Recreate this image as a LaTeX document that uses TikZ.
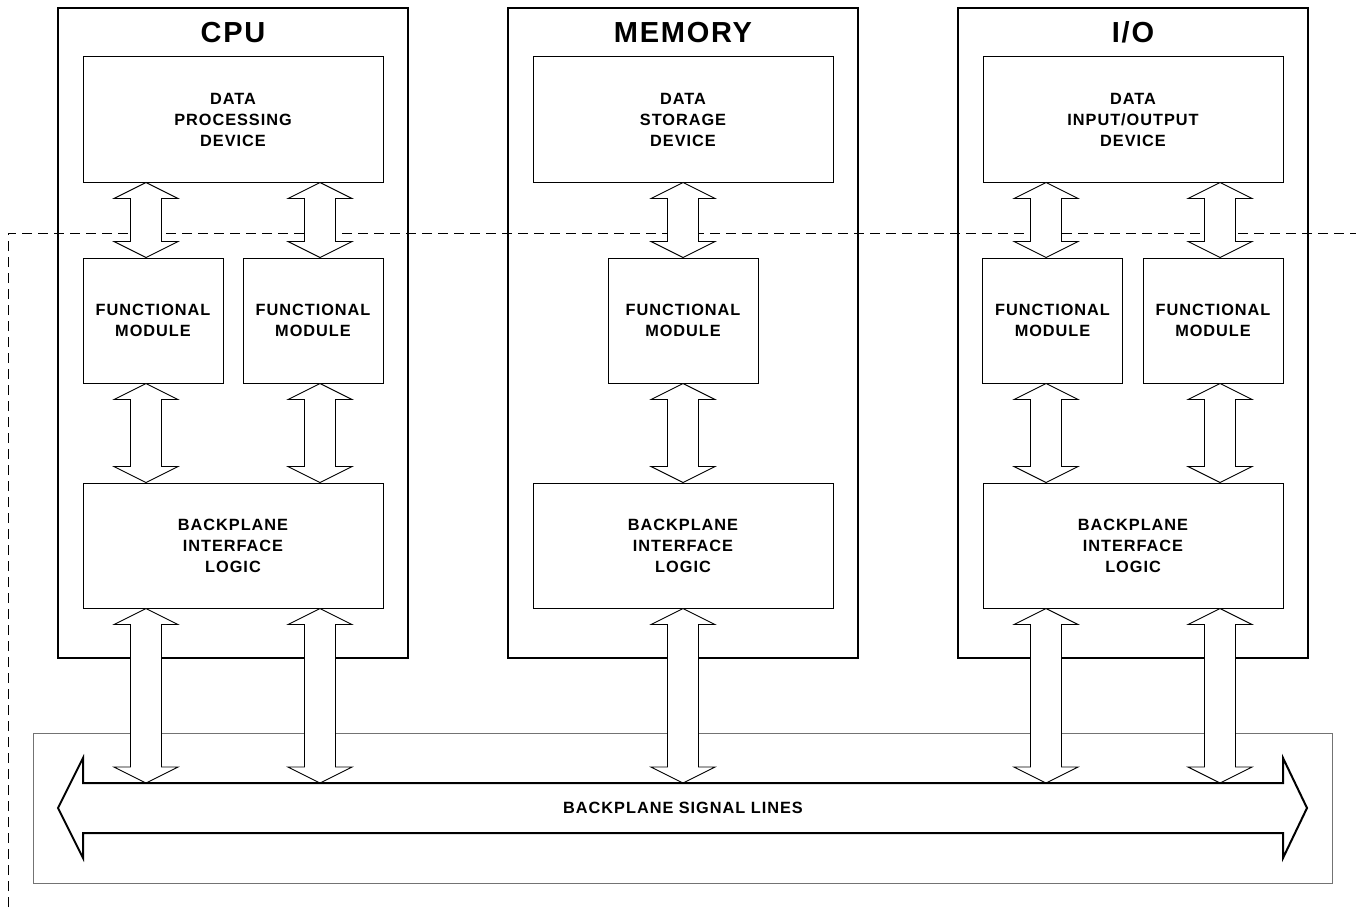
\documentclass[tikz,border=0pt]{standalone}
\usepackage{fontspec}
\setmainfont{Liberation Sans}[LetterSpace=6]
\usetikzlibrary{calc}

\newcommand{\boxfont}{\bfseries\fontsize{16.3}{21}\selectfont}
\newcommand{\titlefont}{\bfseries\fontsize{29}{30}\selectfont}

\tikzset{
  unitbox/.style={draw, line width=2pt, minimum width=350pt, minimum height=650pt, inner sep=0pt},
  unittitle/.style={anchor=base, font=\titlefont},
  devbox/.style={draw, line width=1pt, minimum width=300pt, minimum height=125pt, inner sep=0pt, align=center, font=\boxfont},
  modbox/.style={devbox, minimum width=140pt},
  frame/.style={draw=black!55, line width=1pt, minimum width=1299pt, minimum height=150pt, inner sep=0pt},
  dataflow/.style={draw, line width=0.9pt, fill=white, line join=miter},
  busflow/.style={draw, line width=2pt, fill=white, line join=miter},
  boundary/.style={dashed, dash pattern=on 10pt off 6pt, line width=1pt}
}

% block arrow with a head at each end: #1 upper tip, #2 lower tip
\newcommand{\dataarrow}[2]{%
  \draw[dataflow] (#1) -- ++(32,16) -- ++(-16.5,0) -- ($(#2)+(15.5,-16)$) -- ++(16.5,0)
    -- (#2) -- ++(-32,-16) -- ++(16.5,0) -- ($(#1)+(-15.5,16)$) -- ++(-16.5,0) -- cycle;}

\begin{document}
\begin{tikzpicture}[x=1pt, y=-1pt]
		\useasboundingbox (0,0) rectangle (1356,907);

		% Board boundary
		\coordinate (edge-bl) at (8,907);
		\coordinate (edge-tl) at (8,233);
		\coordinate (edge-tr) at (1356,233);
		\draw[boundary] (edge-bl) -- (edge-tl) -- (edge-tr);

		% Units
		\foreach \u/\x/\t in {cpu/233/CPU, mem/683/MEMORY, io/1133/{I/O}} {
			\node[unitbox] (\u) at (\x,333) {};
			\node[unittitle] (\u-title) at (\x,43) {\t};
			\node[devbox] (\u-bil) at (\x,545.5) {BACKPLANE\\INTERFACE\\LOGIC};
		}

		% Devices
		\node[devbox] (cpu-dev) at (233,119.5) {DATA\\PROCESSING\\DEVICE};
		\node[devbox] (mem-dev) at (683,119.5) {DATA\\STORAGE\\DEVICE};
		\node[devbox] (io-dev) at (1133,119.5) {DATA\\INPUT/OUTPUT\\DEVICE};

		% Functional modules
		\node[modbox] (cpu-fa) at (153,320.5) {FUNCTIONAL\\MODULE};
		\node[modbox] (cpu-fb) at (313,320.5) {FUNCTIONAL\\MODULE};
		\node[modbox, minimum width=150pt] (mem-f) at (683,320.5) {FUNCTIONAL\\MODULE};
		\node[modbox] (io-fa) at (1052.5,320.5) {FUNCTIONAL\\MODULE};
		\node[modbox] (io-fb) at (1213,320.5) {FUNCTIONAL\\MODULE};

		% Backplane
		\node[frame] (backplane) at (682.5,808) {};
		\coordinate (bus-top) at (0,783);

		% Data paths
		\foreach \u/\dx/\m in {cpu/-87/cpu-fa, cpu/87/cpu-fb, mem/0/mem-f, io/-87/io-fa, io/87/io-fb} {
			\coordinate (lane) at ($(\u.center)+(\dx,0)$);
			\dataarrow{lane |- \u-dev.south}{lane |- \m.north}
			\dataarrow{lane |- \m.south}{lane |- \u-bil.north}
			\dataarrow{lane |- \u-bil.south}{lane |- bus-top}
		}

		% Signal lines
		\coordinate (bus-l) at (58,808);
		\coordinate (bus-r) at (1307,808);
		\draw[busflow] (bus-l) -- ++(25,-50) -- ++(0,25) -- ++(1200,0) -- ++(0,-25) -- (bus-r)
			-- ++(-24,50) -- ++(0,-25) -- ++(-1200,0) -- ++(0,25) -- cycle;
		\node[font=\boxfont] (bus) at (683,808) {BACKPLANE SIGNAL LINES};

	\end{tikzpicture}
\end{document}
